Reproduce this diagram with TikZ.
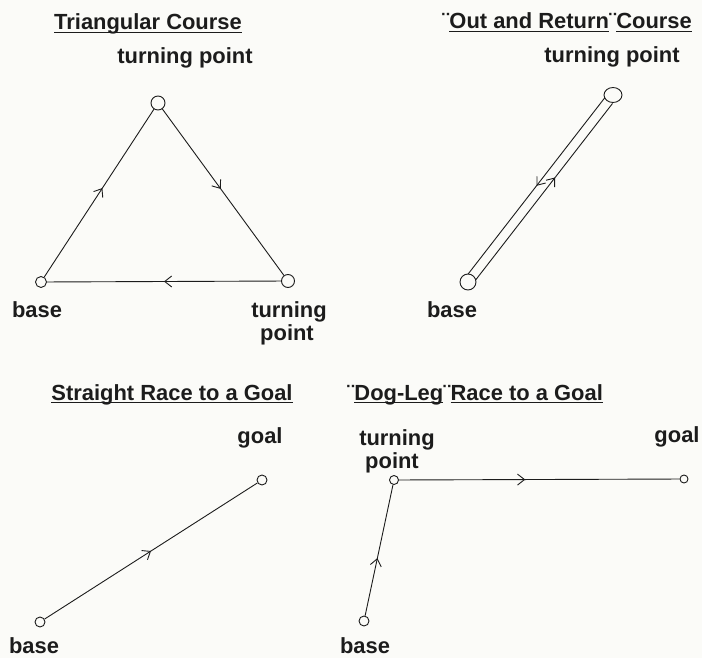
\documentclass[tikz,border=0pt]{standalone}
\usepackage{fontspec}
\setmainfont{Liberation Sans}
\usetikzlibrary{arrows.meta,decorations.markings,calc,shapes.geometric}
\definecolor{ink}{HTML}{1C1C1C}
\definecolor{paper}{HTML}{FBFBF8}
\newsavebox\ulbox
\newcommand\ulx[1]{\sbox\ulbox{#1}\rlap{\raisebox{-3.5pt}{\rule{\wd\ulbox}{1pt}}}\usebox\ulbox}
\begin{document}
\begin{tikzpicture}[x=1bp,y=-1bp,
  lbl/.style={font=\bfseries\fontsize{22}{24}\selectfont, inner sep=0, anchor=base, text=ink},
  buoy/.style={circle, draw=ink, line width=0.9bp, inner sep=0, minimum size=#1},
  crs/.style={draw=ink, line width=0.9bp},
  mid/.style={postaction={decorate}, decoration={markings, mark=at position #1 with {\arrow[ink,line width=0.9bp]{Straight Barb[length=7bp,width=11bp]}}}}]
\fill[paper] (0,0) rectangle (702,658);
\useasboundingbox (0,0) rectangle (702,658);

% Titles
\node[lbl] (h1) at (148,30) {\ulx{Triangular Course}};
\node[lbl] (h2) at (567,29) {¨\ulx{Out and Return}¨\ulx{Course}};
\node[lbl] (h3) at (172,400) {\ulx{Straight Race to a Goal}};
\node[lbl] (h4) at (475,400) {¨\ulx{Dog-Leg}¨\ulx{Race to a Goal}};

% Triangular course
\node[buoy=14bp] (ta) at (158,103) {};
\node[buoy=11bp] (tb) at (41,282) {};
\node[buoy=13bp] (tc) at (288,281) {};
\draw[crs, mid=0.53] (tb) -- (ta);
\draw[crs, mid=0.48] (ta) -- (tc);
\draw[crs, mid=0.5] (tc) -- (tb);
\node[lbl] (tl1) at (185,64) {turning point};
\node[lbl] (tl2) at (37,317) {base};
\node[lbl] (tl3) at (289,317) {turning};
\node[lbl] (tl4) at (287,340) {point};

% Out and return course
\node[ellipse, draw=ink, line width=0.9bp, inner sep=0, minimum width=18bp, minimum height=15bp] (ot) at (613,95) {};
\node[buoy=16bp] (ob) at (468,282) {};
\coordinate (oRb) at ($($(ob)!6.5bp!(ot)$)!4.8bp!-90:(ot)$);
\coordinate (oRt) at ($($(ot)!7bp!(ob)$)!4.8bp!90:(ob)$);
\coordinate (oLb) at ($($(ob)!6.5bp!(ot)$)!4.8bp!90:(ot)$);
\coordinate (oLt) at ($($(ot)!7bp!(ob)$)!4.8bp!-90:(ob)$);
\draw[crs, mid=0.58] (oRb) -- (oRt);
\draw[crs, mid=0.5] (oLt) -- (oLb);
\node[lbl] (ol1) at (612,63) {turning point};
\node[lbl] (ol2) at (452,317) {base};

% Straight race
\node[buoy=10bp] (sg) at (262,480) {};
\node[buoy=10bp] (sb) at (40,622) {};
\draw[crs, mid=0.5] (sb) -- (sg);
\node[lbl] (sl1) at (260,443) {goal};
\node[lbl] (sl2) at (34,653) {base};

% Dog-leg race
\node[buoy=9bp] (dt) at (394,480) {};
\node[buoy=8bp] (dg) at (684,479) {};
\node[buoy=10bp] (db) at (364,621) {};
\draw[crs, mid=0.44] (db) -- (dt);
\draw[crs, mid=0.45] (dt) -- (dg);
\node[lbl] (dl1) at (397,445) {turning};
\node[lbl] (dl2) at (392,468) {point};
\node[lbl] (dl3) at (677,442) {goal};
\node[lbl] (dl4) at (365,653) {base};
\end{tikzpicture}
\end{document}
